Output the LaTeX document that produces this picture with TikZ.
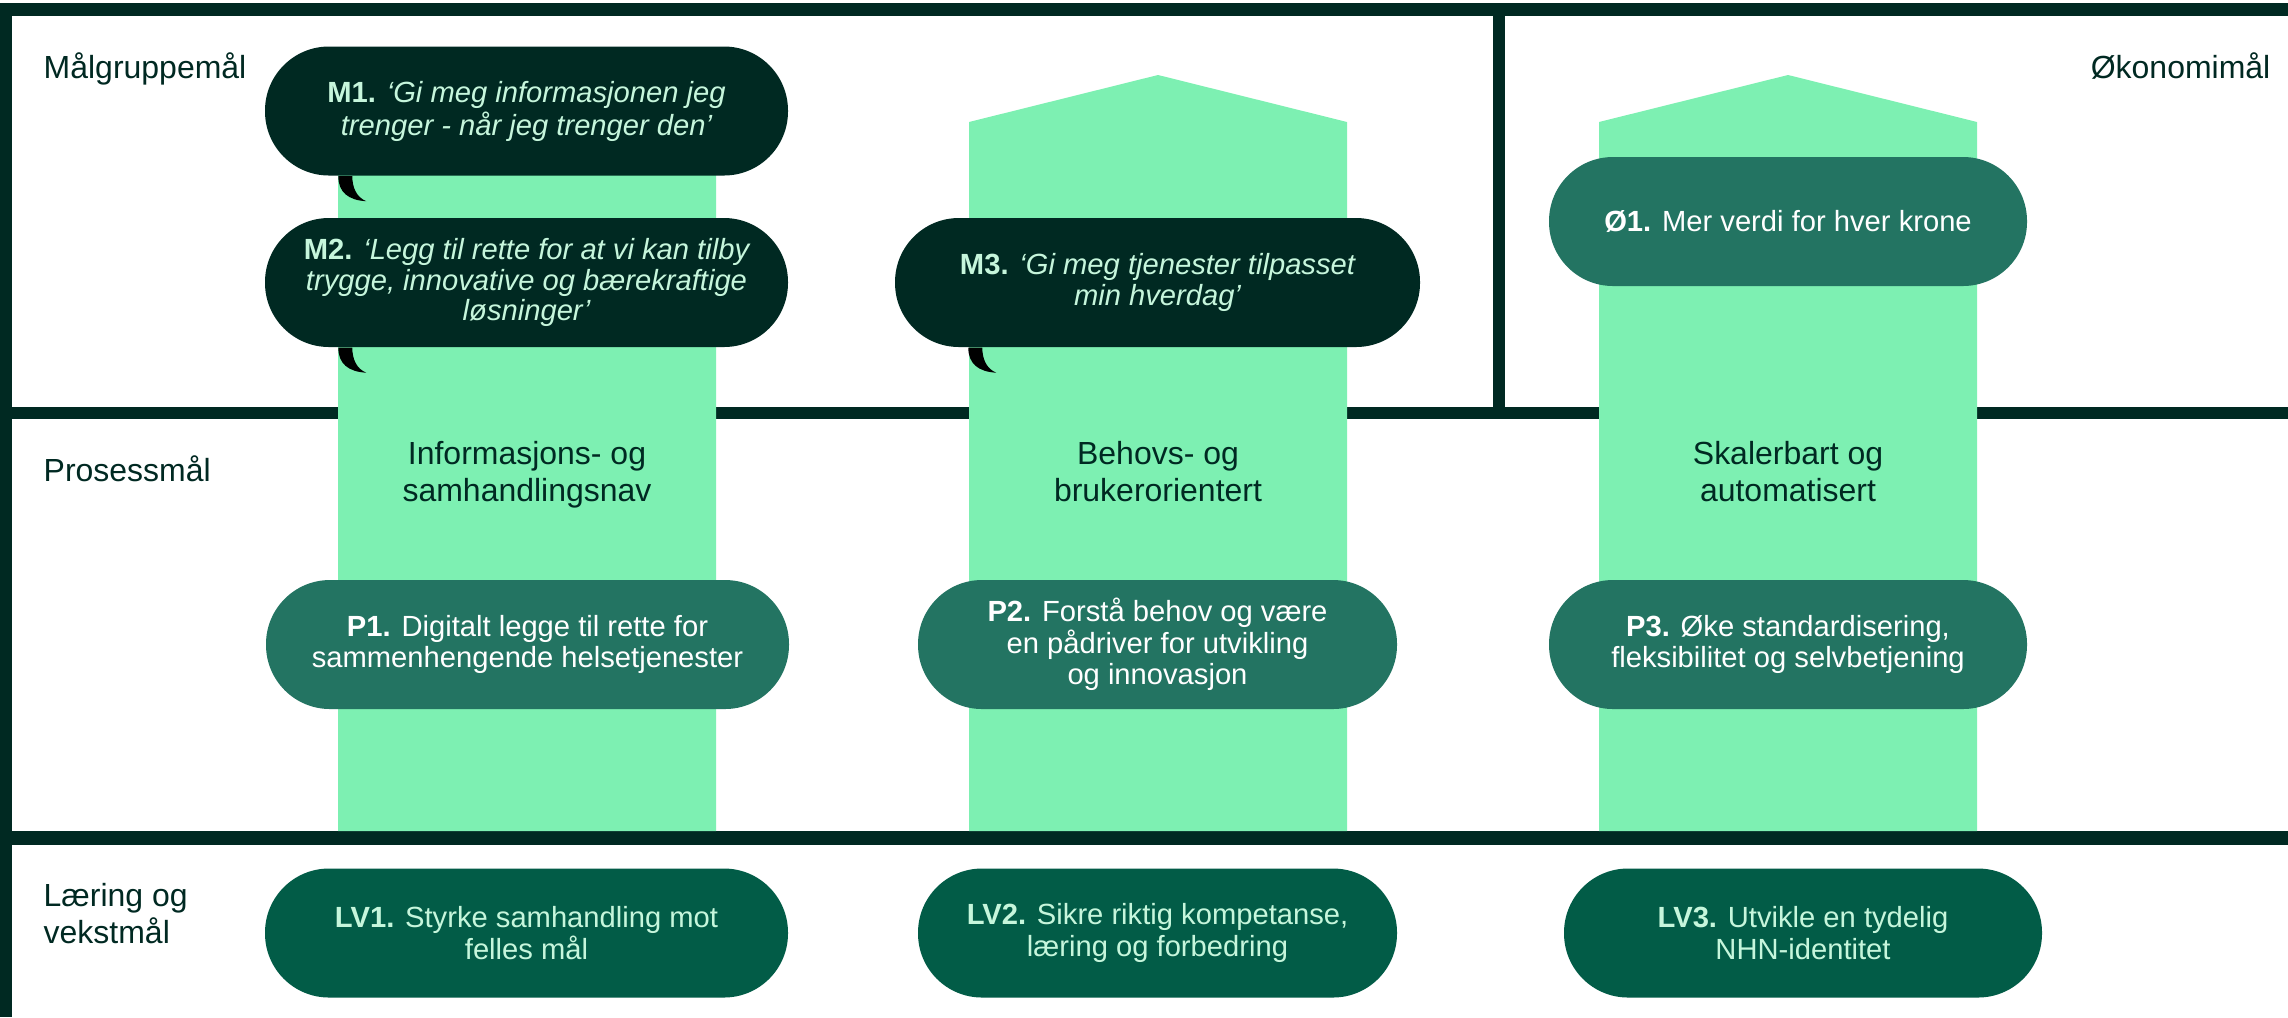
\documentclass[tikz,border=0pt]{standalone}
\usepackage{fontspec}
\setmainfont{Liberation Sans}
\usetikzlibrary{positioning}

\definecolor{nhndark}{HTML}{002922}
\definecolor{nhnmint}{HTML}{7DF0B2}
\definecolor{nhnmid}{HTML}{237462}
\definecolor{nhndeep}{HTML}{025C47}
\definecolor{nhnpale}{HTML}{C6F6DC}

\newcommand{\goalid}[1]{\textbf{\upshape #1}}

\tikzset{
  every bubble/.style={rounded corners=6.4mm, inner sep=0pt, align=center,
    minimum height=12.9mm},
  maal bubble/.style={every bubble, fill=nhndark, text=nhnpale,
    font=\fontsize{8.3}{7.6}\selectfont\itshape},
  prosess bubble/.style={every bubble, fill=nhnmid, text=white,
    font=\fontsize{8.3}{9}\selectfont},
  laering bubble/.style={every bubble, fill=nhndeep, text=nhnpale,
    font=\fontsize{8.3}{9}\selectfont},
  row label/.style={text=nhndark, inner sep=0pt, align=left,
    font=\fontsize{9.1}{10.3}\selectfont},
  column label/.style={text=nhndark, inner sep=0pt, align=center,
    font=\fontsize{9.1}{10.5}\selectfont},
  bar/.style={fill=nhndark},
  column/.style={fill=nhnmint}
}

\begin{document}
\begin{tikzpicture}[x=0.1mm, y=-0.1mm]

  \useasboundingbox (0,0) rectangle (2288,1017);
  \fill[white] (0,0) rectangle (2288,1017);

  % frame and dividers
  \fill[bar] (0,3) rectangle (2288,16);
  \fill[bar] (0,3) rectangle (12,1017);
  \fill[bar] (0,407) rectangle (2288,419);
  \fill[bar] (1493,16) rectangle (1505,407);
  \fill[bar] (0,831) rectangle (2288,845);

  % the three columns
  \foreach \x [count=\i] in {527,1158,1788}
  \fill[column] (\x-189,831) -- (\x-189,122) -- (\x,75)
    -- (\x+189,122) -- (\x+189,831) -- cycle;

  % row labels (base = last line)
  \node [row label, anchor=base west] (lbl-maal) at (43,78) {Målgruppemål};
  \node [row label, anchor=base east] (lbl-okonomi) at (2271,78) {Økonomimål};
  \node [row label, anchor=base west] (lbl-prosess) at (43,481) {Prosessmål};
  \node [row label, anchor=base west] (lbl-laering) at (43,943) {Læring og\\vekstmål};

  % column headings
  \foreach \x/\l [count=\i] in {527/{Informasjons- og\\samhandlingsnav},
                                1158/{Behovs- og\\brukerorientert},
                                1788/{Skalerbart og\\automatisert}}
  \node [column label, anchor=base] (head-\i) at (\x,501) {\l};

  % target group goals
  \node [maal bubble, minimum width=52.3mm] (maal-1) at (526.5,111)
    {\goalid{M1.} ‘Gi meg informasjonen jeg\\trenger - når jeg trenger den’};
  \node [maal bubble, minimum width=52.3mm] (maal-2) at (526.5,282.5)
    {\goalid{M2.} ‘Legg til rette for at vi kan tilby\\trygge, innovative og bærekraftige\\løsninger’};
  \node [maal bubble, minimum width=52.5mm] (maal-3) at (1157.5,282.5)
    {\goalid{M3.} ‘Gi meg tjenester tilpasset\\min hverdag’};

  \foreach \b in {maal-1,maal-2,maal-3}
  \fill[black] ([xshift=7.4mm]\b.south west)
    .. controls +(0,-1.6mm) and +(-1.8mm,0.1mm) .. ++(2.8mm,-2.5mm)
    .. controls +(-1.0mm,0.4mm) and +(0,-1.1mm) .. ++(-1.4mm,2.5mm) -- cycle;

  % economy goal
  \node [prosess bubble, minimum width=47.8mm] (okonomi-1) at (1788,221.5)
    {\goalid{Ø1.} Mer verdi for hver krone};

  % process goals
  \node [prosess bubble, minimum width=52.3mm] (prosess-1) at (527.5,644.5)
    {\goalid{P1.} Digitalt legge til rette for\\sammenhengende helsetjenester};
  \node [prosess bubble, minimum width=47.9mm] (prosess-2) at (1157.5,644.5)
    {\goalid{P2.} Forstå behov og være\\en pådriver for utvikling\\og innovasjon};
  \node [prosess bubble, minimum width=47.8mm] (prosess-3) at (1788,644.5)
    {\goalid{P3.} Øke standardisering,\\fleksibilitet og selvbetjening};

  % learning and growth goals
  \node [laering bubble, minimum width=52.3mm] (laering-1) at (526.5,933)
    {\goalid{LV1.} Styrke samhandling mot\\felles mål};
  \node [laering bubble, minimum width=47.9mm] (laering-2) at (1157.5,933)
    {\goalid{LV2.} Sikre riktig kompetanse,\\læring og forbedring};
  \node [laering bubble, minimum width=47.8mm] (laering-3) at (1803,933)
    {\goalid{LV3.} Utvikle en tydelig\\NHN-identitet};

\end{tikzpicture}
\end{document}
